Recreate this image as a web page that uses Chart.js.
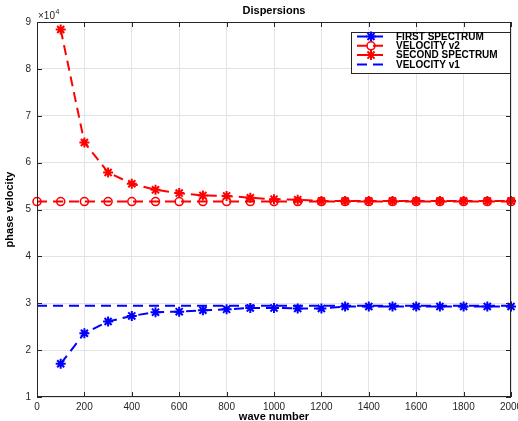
<!DOCTYPE html>
<html>
<head>
<meta charset="utf-8">
<script src="https://cdn.jsdelivr.net/npm/chart.js@4.4.1/dist/chart.umd.min.js"></script>
<style>
  html, body { margin: 0; padding: 0; background: #fff; }
  #wrap { width: 518px; height: 421px; }
</style>
</head>
<body>
<div id="wrap"><canvas id="c" width="518" height="421"></canvas></div>
<script>
var waveNumbers = [100, 200, 300, 400, 500, 600, 700, 800, 900, 1000, 1100, 1200, 1300, 1400, 1500, 1600, 1700, 1800, 1900, 2000];
var firstSpectrum = [17100, 23600, 26100, 27300, 28100, 28200, 28500, 28700, 29000, 29000, 28900, 28900, 29300, 29300, 29300, 29300, 29300, 29300, 29300, 29300];
var secondSpectrum = [88400, 64300, 57900, 55500, 54200, 53500, 53000, 52900, 52500, 52200, 52100, 51800, 51800, 51800, 51800, 51800, 51800, 51800, 51800, 51800];
var v2Waves = [0, 100, 200, 300, 400, 500, 600, 700, 800, 900, 1000, 1100, 1200, 1300, 1400, 1500, 1600, 1700, 1800, 1900, 2000];
var velocityV2 = 51700;
var velocityV1 = 29450;
var v1Waves = [0, 2000];
var xTicks = [0, 200, 400, 600, 800, 1000, 1200, 1400, 1600, 1800, 2000];
var yTicks = [1, 2, 3, 4, 5, 6, 7, 8, 9];
var legendLabels = ['FIRST SPECTRUM', 'VELOCITY v2', 'SECOND SPECTRUM', 'VELOCITY v1'];

var BLUE = '#0000ff';
var RED = '#ff0000';
var INK = '#262626';
var FONT = '"Liberation Sans", Arial, sans-serif';

function pairs(xs, ys) {
  return xs.map(function (x, i) { return { x: x, y: Array.isArray(ys) ? ys[i] : ys }; });
}

function strokeMarker(ctx, style, r, x, y) {
  ctx.beginPath();
  if (style === 'circle') {
    ctx.arc(x, y, r, 0, Math.PI * 2);
  } else {
    for (var k = 0; k < 4; k++) {
      var ang = k * Math.PI / 4;
      ctx.moveTo(x - r * Math.cos(ang), y - r * Math.sin(ang));
      ctx.lineTo(x + r * Math.cos(ang), y + r * Math.sin(ang));
    }
  }
  ctx.stroke();
}

var matlabPlugin = {
  id: 'matlabAxes',
  afterDraw: function (chart) {
    var ctx = chart.ctx;
    var a = chart.chartArea;
    var xs = chart.scales.x;
    var ys = chart.scales.y;
    ctx.save();

    // box + inward ticks
    ctx.strokeStyle = INK;
    ctx.lineWidth = 1;
    ctx.strokeRect(a.left + 0.5, a.top + 0.5, a.right - a.left - 1, a.bottom - a.top - 1);
    ctx.beginPath();
    xTicks.forEach(function (t) {
      var px = Math.round(xs.getPixelForValue(t)) + 0.5;
      ctx.moveTo(px, a.bottom); ctx.lineTo(px, a.bottom - 5);
      ctx.moveTo(px, a.top); ctx.lineTo(px, a.top + 5);
    });
    yTicks.forEach(function (t) {
      var py = Math.round(ys.getPixelForValue(t * 1e4)) + 0.5;
      ctx.moveTo(a.left, py); ctx.lineTo(a.left + 5, py);
      ctx.moveTo(a.right, py); ctx.lineTo(a.right - 5, py);
    });
    ctx.stroke();

    // texts
    ctx.fillStyle = '#000';
    ctx.textAlign = 'center';
    ctx.textBaseline = 'middle';
    ctx.font = 'bold 11px ' + FONT;
    ctx.fillText('Dispersions', (a.left + a.right) / 2, 11);
    ctx.fillText('wave number', (a.left + a.right) / 2, 417);
    ctx.save();
    ctx.translate(10, (a.top + a.bottom) / 2);
    ctx.rotate(-Math.PI / 2);
    ctx.fillText('phase velocity', 0, 0);
    ctx.restore();

    ctx.fillStyle = INK;
    ctx.textAlign = 'left';
    ctx.textBaseline = 'alphabetic';
    ctx.font = '10px ' + FONT;
    var base = '\u00d710';
    ctx.fillText(base, a.left + 1, 19);
    var bw = ctx.measureText(base).width;
    ctx.font = '7px ' + FONT;
    ctx.fillText('4', a.left + 1 + bw + 0.5, 14);

    // legend
    var lx = 351, ly = 32, lw = 159, lh = 41;
    ctx.fillStyle = '#fff';
    ctx.fillRect(lx, ly, lw, lh);
    ctx.strokeStyle = INK;
    ctx.lineWidth = 1;
    ctx.strokeRect(lx + 0.5, ly + 0.5, lw, lh);
    ctx.font = 'bold 10px ' + FONT;
    ctx.textBaseline = 'middle';
    legendLabels.forEach(function (label, row) {
      var ds = chart.data.datasets[row];
      var y = ly + 4.5 + row * 9.3;
      ctx.strokeStyle = ds.borderColor;
      ctx.lineWidth = 2;
      ctx.setLineDash(ds.borderDash);
      ctx.beginPath();
      ctx.moveTo(357, y); ctx.lineTo(385, y);
      ctx.stroke();
      ctx.setLineDash([]);
      if (ds.pointRadius > 0) {
        ctx.lineWidth = ds.pointBorderWidth;
        strokeMarker(ctx, ds.pointStyle, ds.pointRadius, 371, y);
      }
      ctx.fillStyle = '#000';
      ctx.fillText(label, 396, y + 0.5);
    });
    ctx.restore();
  }
};

var ctx = document.getElementById('c').getContext('2d');
var chart = new Chart(ctx, {
  type: 'line',
  data: {
    datasets: [
      {
        label: legendLabels[0], data: pairs(waveNumbers, firstSpectrum),
        borderColor: BLUE, backgroundColor: BLUE, borderWidth: 2, borderDash: [10, 6],
        pointStyle: 'star', pointRadius: 5, pointBorderWidth: 2, pointBackgroundColor: BLUE, pointBorderColor: BLUE,
        order: 4, clip: false
      },
      {
        label: legendLabels[1], data: pairs(v2Waves, velocityV2),
        borderColor: RED, backgroundColor: RED, borderWidth: 2, borderDash: [10, 6],
        pointStyle: 'circle', pointRadius: 4, pointBorderWidth: 1.6, pointBackgroundColor: 'rgba(0,0,0,0)', pointBorderColor: RED,
        order: 3, clip: false
      },
      {
        label: legendLabels[2], data: pairs(waveNumbers, secondSpectrum),
        borderColor: RED, backgroundColor: RED, borderWidth: 2, borderDash: [10, 6],
        pointStyle: 'star', pointRadius: 5, pointBorderWidth: 2, pointBackgroundColor: RED, pointBorderColor: RED,
        order: 2, clip: false
      },
      {
        label: legendLabels[3], data: pairs(v1Waves, velocityV1),
        borderColor: BLUE, backgroundColor: BLUE, borderWidth: 2, borderDash: [10, 6],
        pointRadius: 0, pointStyle: 'line', pointBorderWidth: 0,
        order: 1, clip: false
      }
    ]
  },
  options: {
    responsive: false,
    animation: false,
    devicePixelRatio: 1,
    layout: { padding: { left: 0, right: 6, top: 22, bottom: 0 } },
    elements: { line: { tension: 0, fill: false } },
    plugins: {
      legend: { display: false },
      title: { display: false },
      tooltip: { enabled: false }
    },
    scales: {
      x: {
        type: 'linear', min: 0, max: 2000,
        afterFit: function (s) { s.height = 24; s.paddingLeft = 0; s.paddingRight = 0; },
        afterBuildTicks: function (s) { s.ticks = xTicks.map(function (v) { return { value: v }; }); },
        ticks: {
          autoSkip: false, maxRotation: 0, padding: 4,
          color: INK, font: { family: FONT, size: 10 },
          callback: function (v) { return String(v); }
        },
        grid: { color: '#e3e3e3', drawTicks: false, lineWidth: 1 },
        border: { display: false }
      },
      y: {
        type: 'linear', min: 10000, max: 90000,
        afterFit: function (s) { s.width = 37; s.paddingTop = 0; s.paddingBottom = 0; },
        afterBuildTicks: function (s) { s.ticks = yTicks.map(function (v) { return { value: v * 1e4 }; }); },
        ticks: {
          autoSkip: false, padding: 6,
          color: INK, font: { family: FONT, size: 10 },
          callback: function (v) { return String(v / 1e4); }
        },
        grid: { color: '#e3e3e3', drawTicks: false, lineWidth: 1 },
        border: { display: false }
      }
    }
  },
  plugins: [matlabPlugin]
});
</script>
</body>
</html>
